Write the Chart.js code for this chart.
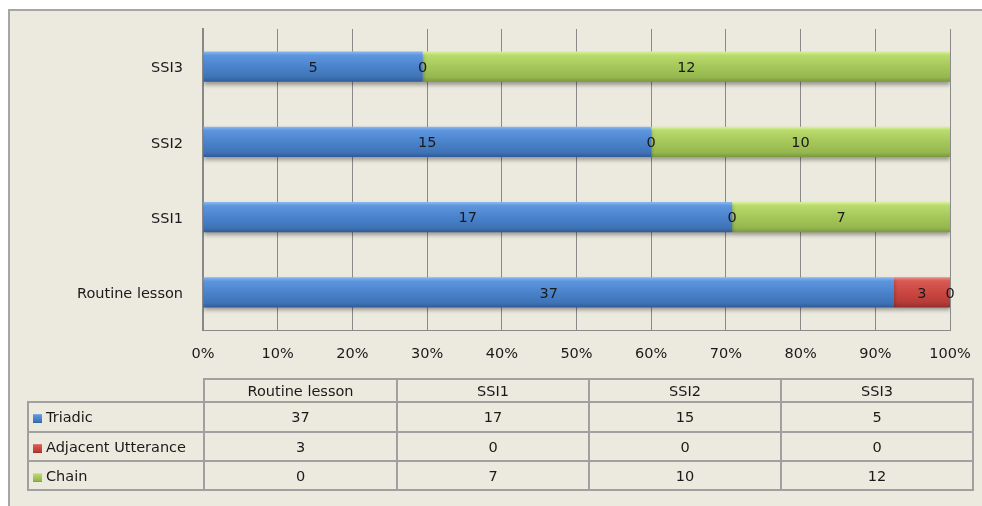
<!DOCTYPE html>
<html><head><meta charset="utf-8">
<script src="https://cdn.jsdelivr.net/npm/chart.js@4/dist/chart.umd.min.js"></script>
<style>
html,body{margin:0;padding:0;background:#fff;width:982px;height:506px;overflow:hidden;font-family:"DejaVu Sans",sans-serif;}
#frame{position:absolute;left:8px;top:9px;width:990px;height:510px;background:#ECE9DF;border-top:2px solid #A6A6A6;border-left:2px solid #A6A6A6;border-right:none;border-bottom:none;}
#wrap{position:absolute;left:0;top:0;width:982px;height:506px;}
#tbl{position:absolute;left:27px;top:378px;border-collapse:collapse;table-layout:fixed;font-size:14.5px;color:#1a1a1a;width:945px;}
#tbl td{border:2px solid #A0A0A0;text-align:center;padding:0;white-space:nowrap;overflow:hidden;line-height:16px;}
#tbl td.corner{border-top:none;border-left:none;}
#tbl td.name{text-align:left;padding-left:4px;}
#tbl .mk{display:inline-block;width:9px;height:9px;margin-right:4px;vertical-align:-1px;}
</style></head>
<body>
<div id="frame"></div>
<div id="wrap"><canvas id="c" width="982" height="506"></canvas></div>
<table id="tbl"></table>
<script>
// ---- data ----
const categories = ['Routine lesson', 'SSI1', 'SSI2', 'SSI3'];
const seriesNames = ['Triadic', 'Adjacent Utterance', 'Chain'];
const triadic = [37, 17, 15, 5];
const adjacentUtterance = [3, 0, 0, 0];
const chain = [0, 7, 10, 12];
const tickLabels = ['0%', '10%', '20%', '30%', '40%', '50%', '60%', '70%', '80%', '90%', '100%'];

// ---- styles ----
const FONT = '"DejaVu Sans", sans-serif';
const TEXT = '#1a1a1a';
const gradStops = [
  [[0,'#8AB8F0'],[0.12,'#5E96DE'],[0.5,'#4A83CC'],[0.85,'#3F73B6'],[1,'#305C97']],
  [[0,'#EE8A84'],[0.12,'#D85A54'],[0.5,'#CB4741'],[0.85,'#B43C37'],[1,'#8E2E2A']],
  [[0,'#DAF19A'],[0.12,'#B9DA6C'],[0.5,'#A5C75A'],[0.85,'#95B74E'],[1,'#7B9940']]
];
const seriesValues = [triadic, adjacentUtterance, chain];

const totals = categories.map((_, i) => seriesValues.reduce((s, arr) => s + arr[i], 0));
const pct = arr => arr.map((v, i) => totals[i] ? v / totals[i] * 100 : 0);

function gradFor(stops) {
  return (c) => {
    const ch = c.chart, ys = ch.scales.y;
    if (!ys || c.dataIndex == null || !ch.chartArea) return stops[2][1];
    const cy = ys.getPixelForValue(c.dataIndex);
    const h = (ys.bottom - ys.top) / categories.length * 0.4;
    const g = ch.ctx.createLinearGradient(0, cy - h / 2, 0, cy + h / 2);
    stops.forEach(s => g.addColorStop(s[0], s[1]));
    return g;
  };
}

const shadowPlugin = {
  id: 'barShadow',
  beforeDatasetsDraw(chart) {
    const c = chart.ctx; c.save();
    c.shadowColor = 'rgba(0,0,0,0.35)'; c.shadowBlur = 4; c.shadowOffsetX = 0; c.shadowOffsetY = 3;
  },
  afterDatasetsDraw(chart) { chart.ctx.restore(); }
};
const labelPlugin = {
  id: 'barLabels',
  afterDatasetsDraw(chart) {
    const c = chart.ctx; c.save();
    c.font = '14.5px ' + FONT; c.fillStyle = TEXT; c.textAlign = 'center'; c.textBaseline = 'middle';
    chart.data.datasets.forEach((ds, di) => {
      chart.getDatasetMeta(di).data.forEach((el, i) => {
        c.fillText(String(ds.rawValues[i]), (el.x + el.base) / 2, el.y + 1.5);
      });
    });
    c.restore();
  }
};

new Chart(document.getElementById('c'), {
  type: 'bar',
  data: {
    labels: categories,
    datasets: seriesNames.map((n, k) => ({
      label: n,
      data: pct(seriesValues[k]),
      rawValues: seriesValues[k],
      backgroundColor: gradFor(gradStops[k]),
      borderWidth: 0,
      barPercentage: 0.4,
      categoryPercentage: 1
    }))
  },
  options: {
    indexAxis: 'y',
    responsive: false,
    animation: false,
    layout: { padding: { left: 0, right: 32, top: 29, bottom: 136 } },
    plugins: { legend: { display: false }, tooltip: { enabled: false } },
    scales: {
      x: {
        stacked: true, min: 0, max: 100,
        afterFit: s => { s.height = 40; s.paddingRight = 0; s.paddingLeft = 0; },
        grid: { color: '#8A8A8A', lineWidth: 1, drawTicks: false },
        border: { display: true, color: '#8A8A8A', width: 1 },
        ticks: { stepSize: 10, padding: 16, color: TEXT, font: { family: FONT, size: 14.5 },
          callback: (v, i) => tickLabels[i] }
      },
      y: {
        stacked: true, reverse: true,
        afterFit: s => { s.width = 203; },
        grid: { display: false, drawTicks: false },
        border: { display: true, color: '#888888', width: 2 },
        ticks: { padding: 20, labelOffset: 2, color: TEXT, font: { family: FONT, size: 14.5 } }
      }
    }
  },
  plugins: [shadowPlugin, labelPlugin]
});

// ---- data table ----
const tbl = document.getElementById('tbl');
const colW = [176, 193, 192, 192, 192];
const cg = document.createElement('colgroup');
colW.forEach(w => { const col = document.createElement('col'); col.style.width = w + 'px'; cg.appendChild(col); });
tbl.appendChild(cg);
const hr = document.createElement('tr'); hr.style.height = '23px';
const corner = document.createElement('td'); corner.className = 'corner'; hr.appendChild(corner);
categories.forEach(cat => { const td = document.createElement('td'); td.textContent = cat; hr.appendChild(td); });
tbl.appendChild(hr);
const rowH = [30, 29, 29];
seriesNames.forEach((n, k) => {
  const tr = document.createElement('tr'); tr.style.height = rowH[k] + 'px';
  const nd = document.createElement('td'); nd.className = 'name';
  const mk = document.createElement('span'); mk.className = 'mk';
  const st = gradStops[k];
  mk.style.background = 'linear-gradient(to bottom,' + st.map(s => s[1] + ' ' + (s[0] * 100) + '%').join(',') + ')';
  nd.appendChild(mk); nd.appendChild(document.createTextNode(n));
  tr.appendChild(nd);
  seriesValues[k].forEach(v => { const td = document.createElement('td'); td.textContent = v; tr.appendChild(td); });
  tbl.appendChild(tr);
});
</script>
</body></html>
